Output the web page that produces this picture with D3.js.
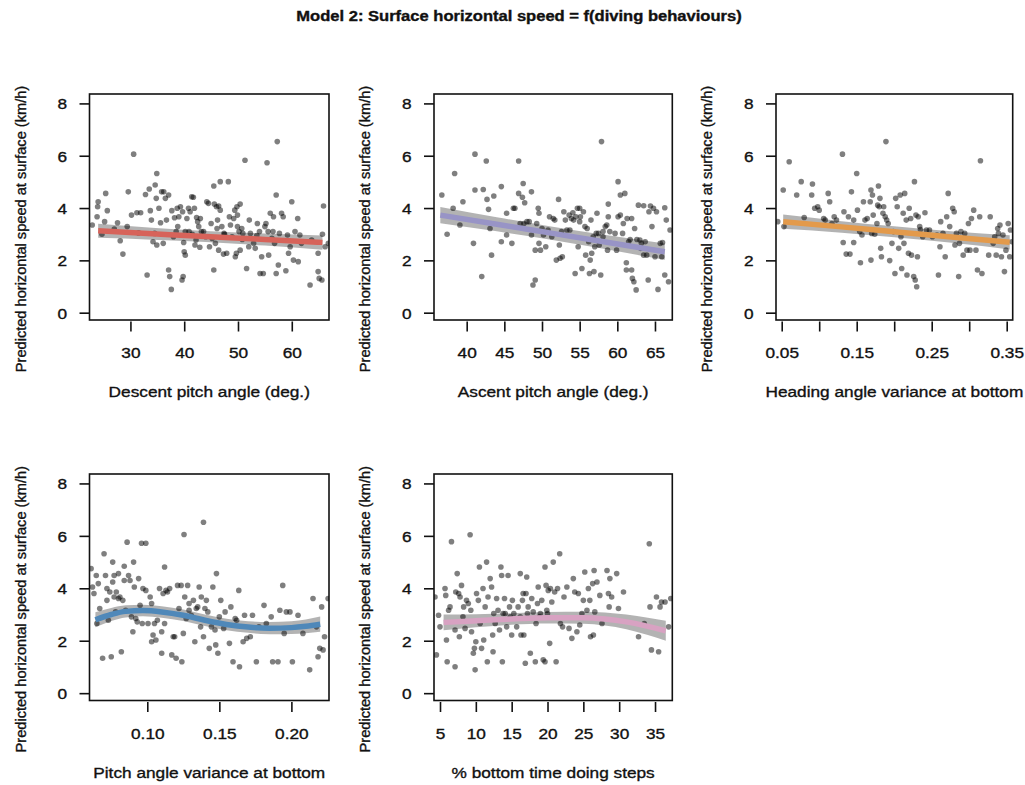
<!DOCTYPE html>
<html>
<head>
<meta charset="utf-8">
<script src="https://cdn.jsdelivr.net/npm/d3@7"></script>
<style>
  html, body { margin: 0; padding: 0; background: #fff; }
  svg { display: block; }
  text { font-family: "Liberation Sans", Arial, Helvetica, sans-serif; fill: #111; stroke: #111; stroke-width: 0.35px; }
</style>
</head>
<body>
<svg id="chart" width="1025" height="785"></svg>
<script>
// ---------------- DATA ----------------
const title = "Model 2: Surface horizontal speed = f(diving behaviours)";
const yLabel = "Predicted horizontal speed at surface (km/h)";
const xLabels = ["Descent pitch angle (deg.)", "Ascent pitch angle (deg.)", "Heading angle variance at bottom",
                 "Pitch angle variance at bottom", "% bottom time doing steps"];
const yTicks = [0, 2, 4, 6, 8];
const xTicks1 = [30, 40, 50, 60];
const xTicks2 = [40, 45, 50, 55, 60, 65];
const xTicks3 = [0.05, 0.10, 0.15, 0.20, 0.25, 0.30, 0.35];
const xTickLabels3 = ["0.05", "", "0.15", "", "0.25", "", "0.35"];
const xTicks4 = [0.10, 0.15, 0.20];
const xTicks5 = [5, 10, 15, 20, 25, 30, 35];
const lineColors = ["#d7645a", "#9894c6", "#e39a4c", "#4f88b9", "#d8a2c2"];

// fitted smooth: x, fit, half-width of confidence band
const fit1X = [24, 34, 44, 55, 65.7];
const fit1Y = [3.13, 3.02, 2.91, 2.80, 2.68];
const fit1S = [0.27, 0.23, 0.21, 0.23, 0.27];
const fit2X = [36.5, 44, 51, 58, 66.3];
const fit2Y = [3.73, 3.38, 3.05, 2.72, 2.33];
const fit2S = [0.31, 0.27, 0.25, 0.27, 0.31];
const fit3X = [0.052, 0.13, 0.20, 0.28, 0.354];
const fit3Y = [3.48, 3.28, 3.09, 2.88, 2.69];
const fit3S = [0.27, 0.22, 0.21, 0.22, 0.27];
const fit4X = [0.064, 0.075, 0.085, 0.097, 0.11, 0.125, 0.14, 0.155, 0.17, 0.185, 0.20, 0.21, 0.22];
const fit4Y = [2.80, 3.00, 3.12, 3.15, 3.10, 2.97, 2.78, 2.62, 2.52, 2.48, 2.50, 2.55, 2.63];
const fit4S = [0.29, 0.25, 0.23, 0.22, 0.22, 0.22, 0.22, 0.22, 0.22, 0.23, 0.24, 0.26, 0.29];
const fit5X = [5.5, 10, 15, 20, 25, 28, 31, 34, 36.5];
const fit5Y = [2.70, 2.76, 2.83, 2.88, 2.88, 2.83, 2.72, 2.55, 2.38];
const fit5S = [0.30, 0.25, 0.22, 0.22, 0.23, 0.25, 0.28, 0.33, 0.38];

// observations [x, y]
const pts1 = [[22.9,3.35],[23.8,3.67],[23.9,4.05],[24.0,4.24],[24.7,3.0],[25.4,4.56],[25.7,3.9],[25.2,3.48],[27.6,3.44],[28.1,2.75],[28.6,2.24],[29.6,4.62],[29.4,3.29],[30.6,6.06],[30.2,3.73],[31.2,3.82],[31.9,3.82],[32.8,4.52],[33.1,1.44],[33.5,4.73],[33.7,3.9],[33.9,3.54],[34.2,2.71],[34.5,3.03],[34.6,4.88],[34.9,5.32],[34.8,4.37],[34.9,2.59],[35.3,3.99],[35.6,3.44],[35.8,4.62],[36.2,4.62],[36.5,4.37],[36.1,2.65],[36.7,3.54],[37.1,4.5],[37.1,1.63],[37.3,1.38],[37.6,0.89],[37.7,3.9],[38.0,2.9],[38.2,3.63],[38.7,3.99],[38.8,3.29],[39.0,3.67],[39.3,4.05],[39.6,1.25],[39.8,1.38],[39.9,2.68],[40.0,2.33],[40.2,2.2],[40.2,3.1],[39.7,3.86],[40.5,3.6],[40.8,3.99],[40.9,3.1],[41.1,3.86],[41.4,4.43],[41.7,4.41],[42.0,2.59],[42.2,2.78],[41.9,3.99],[42.3,3.64],[42.5,3.48],[42.7,3.29],[43.0,3.6],[42.9,2.5],[43.2,3.1],[43.6,3.1],[44.2,4.24],[44.5,4.18],[44.7,2.52],[45.0,3.41],[45.2,2.84],[45.5,1.63],[45.5,4.84],[45.6,4.15],[45.8,2.65],[46.0,4.05],[46.2,3.54],[46.4,4.08],[46.1,3.22],[46.7,5.01],[46.7,3.92],[47.0,3.29],[46.4,2.39],[47.3,2.24],[47.4,3.03],[48.2,5.01],[47.9,2.27],[48.4,3.67],[48.6,3.35],[48.9,2.9],[49.2,3.6],[49.4,3.92],[49.5,2.14],[49.7,2.27],[49.8,4.05],[49.9,3.73],[49.9,3.29],[50.2,3.1],[50.4,4.15],[50.4,2.39],[50.7,3.22],[50.9,3.03],[51.3,5.83],[51.6,1.69],[52.0,2.52],[52.1,3.54],[52.3,3.03],[52.9,2.65],[53.2,2.46],[53.6,3.41],[54.0,3.1],[54.1,1.5],[54.4,2.14],[54.7,1.5],[55.0,3.29],[55.2,3.41],[55.4,5.73],[55.6,3.1],[55.7,2.2],[56.0,3.8],[56.3,2.84],[56.6,3.67],[56.5,3.1],[56.8,2.65],[57.1,4.5],[57.1,1.5],[57.3,6.54],[57.5,1.82],[57.7,3.03],[58.1,3.8],[58.4,3.67],[58.9,1.6],[59.2,2.97],[59.4,2.27],[59.7,2.52],[60.0,4.24],[60.3,2.01],[60.6,3.1],[61.1,3.6],[61.2,1.95],[61.5,2.97],[61.8,2.65],[63.4,1.06],[63.7,2.78],[64.9,2.27],[64.9,1.57],[65.1,1.31],[65.6,1.25],[65.7,3.0],[65.9,4.08],[66.2,2.52],[66.8,2.65],[44.0,2.9],[47.5,3.0],[50.8,2.8],[53.5,2.95],[41.5,3.0],[38.5,3.1],[31.5,3.05],[27.0,3.2]];

const pts2 = [[36.7,4.5],[37.4,3.0],[38.2,3.99],[38.4,5.32],[39.1,3.35],[39.5,4.24],[40.9,2.65],[41.1,6.06],[41.1,4.69],[42.0,1.38],[42.2,4.71],[42.6,5.8],[42.7,4.33],[42.9,3.95],[43.1,3.22],[43.3,2.2],[43.6,4.46],[44.6,4.82],[44.6,2.71],[45.3,3.8],[45.3,2.97],[46.0,2.65],[46.2,3.99],[46.4,3.99],[46.9,5.8],[46.9,4.56],[47.1,3.41],[47.4,4.41],[47.5,4.94],[47.6,3.41],[47.7,4.2],[48.0,3.48],[48.3,3.48],[48.6,4.62],[48.6,2.97],[48.8,1.06],[49.1,1.25],[49.1,2.39],[49.3,3.41],[49.5,3.99],[49.6,3.8],[49.6,2.65],[49.8,2.39],[50.0,3.22],[50.2,2.97],[50.5,2.52],[50.8,3.16],[51.0,3.67],[51.3,2.9],[51.5,3.6],[51.7,3.54],[51.9,2.01],[52.2,4.33],[52.3,2.59],[52.4,2.08],[52.6,3.1],[52.7,2.14],[52.9,3.86],[53.1,3.54],[53.3,3.16],[53.6,3.73],[53.7,3.16],[53.9,3.6],[54.1,3.82],[54.2,3.54],[54.4,1.5],[54.5,3.67],[54.7,3.99],[54.8,2.52],[55.0,3.48],[55.0,3.99],[55.1,3.67],[55.3,1.69],[55.5,3.86],[55.7,3.29],[55.8,2.2],[56.0,3.22],[56.2,2.71],[56.3,1.5],[56.4,2.01],[56.5,3.54],[56.6,2.27],[56.8,2.9],[56.9,1.57],[57.0,2.52],[57.2,3.03],[57.3,3.8],[57.5,3.03],[57.6,2.59],[57.8,1.44],[57.9,6.54],[58.1,3.1],[58.1,2.9],[58.4,3.29],[58.6,3.35],[58.7,2.39],[58.8,3.67],[58.8,4.15],[59.0,3.1],[59.7,3.03],[59.9,2.39],[60.1,5.01],[60.1,3.67],[60.4,4.5],[60.4,3.73],[60.7,3.03],[60.8,3.41],[61.0,4.56],[61.2,1.91],[61.2,1.63],[61.3,3.6],[61.5,2.71],[61.7,2.8],[61.9,1.63],[61.9,3.6],[62.0,1.31],[62.2,1.18],[62.3,3.22],[62.5,0.87],[62.6,2.8],[62.8,4.11],[63.0,2.78],[63.1,2.46],[63.2,2.65],[63.5,2.2],[63.5,4.09],[63.7,2.71],[63.9,2.2],[64.1,1.25],[64.2,3.86],[64.4,4.08],[64.6,3.29],[64.8,3.99],[65.0,2.14],[65.2,3.86],[65.4,0.89],[65.7,2.65],[65.9,2.14],[66.0,2.68],[66.3,1.44],[66.3,4.01],[66.5,3.54],[66.8,1.18],[67.0,3.16]];

const pts3 = [[0.0447,3.48],[0.052,4.69],[0.053,3.29],[0.060,5.77],[0.070,4.5],[0.076,5.01],[0.080,3.64],[0.090,4.5],[0.091,4.92],[0.094,3.99],[0.098,4.05],[0.100,3.92],[0.106,3.6],[0.108,3.54],[0.112,4.56],[0.114,4.24],[0.117,3.41],[0.120,3.67],[0.123,3.54],[0.131,6.06],[0.132,2.68],[0.133,3.86],[0.136,2.24],[0.139,3.67],[0.141,2.24],[0.143,4.62],[0.146,2.68],[0.146,3.54],[0.150,5.32],[0.151,3.92],[0.154,3.1],[0.155,1.91],[0.157,2.97],[0.159,4.24],[0.161,3.54],[0.164,3.6],[0.168,4.24],[0.169,2.01],[0.169,4.69],[0.170,3.03],[0.171,4.5],[0.172,3.73],[0.174,3.0],[0.177,3.41],[0.178,4.11],[0.179,4.84],[0.180,4.05],[0.181,4.37],[0.182,2.46],[0.183,2.14],[0.185,3.8],[0.186,4.05],[0.188,3.67],[0.189,6.54],[0.190,3.54],[0.192,3.41],[0.194,1.99],[0.197,2.65],[0.199,3.1],[0.201,1.5],[0.202,4.37],[0.204,4.05],[0.206,2.46],[0.208,4.5],[0.209,2.9],[0.210,1.69],[0.212,3.8],[0.213,2.65],[0.214,4.56],[0.216,3.54],[0.217,1.44],[0.219,2.27],[0.220,3.99],[0.222,3.6],[0.223,2.2],[0.226,1.38],[0.227,5.01],[0.228,1.25],[0.229,3.73],[0.230,0.99],[0.231,2.14],[0.232,3.67],[0.234,3.29],[0.235,3.18],[0.238,2.9],[0.241,3.82],[0.243,3.16],[0.247,3.16],[0.251,2.9],[0.257,2.97],[0.259,1.44],[0.261,2.52],[0.262,3.48],[0.265,3.03],[0.268,2.14],[0.270,3.67],[0.272,4.56],[0.274,3.29],[0.278,3.99],[0.280,3.86],[0.281,2.59],[0.283,3.03],[0.286,1.38],[0.287,2.65],[0.289,3.1],[0.292,2.2],[0.294,3.03],[0.297,2.39],[0.299,3.41],[0.301,2.39],[0.303,3.6],[0.306,3.92],[0.309,2.39],[0.311,1.63],[0.314,3.67],[0.315,5.81],[0.317,1.5],[0.326,2.2],[0.328,3.67],[0.332,2.65],[0.334,2.9],[0.336,2.2],[0.338,3.22],[0.339,3.03],[0.341,3.35],[0.343,2.14],[0.345,2.97],[0.347,1.57],[0.349,2.39],[0.352,3.41],[0.354,2.14],[0.355,3.16],[0.357,2.71]];

const pts4 = [[0.061,4.75],[0.062,4.05],[0.063,3.8],[0.0646,4.49],[0.065,2.66],[0.066,4.18],[0.067,3.23],[0.069,1.33],[0.070,5.32],[0.071,4.49],[0.072,3.99],[0.072,3.54],[0.073,2.78],[0.074,3.86],[0.075,1.39],[0.076,4.24],[0.076,5.0],[0.077,3.67],[0.077,4.49],[0.078,3.1],[0.0785,3.86],[0.080,3.61],[0.080,4.56],[0.081,3.67],[0.082,1.58],[0.083,3.54],[0.084,4.3],[0.084,4.84],[0.085,3.16],[0.086,5.76],[0.087,4.49],[0.088,4.3],[0.089,2.91],[0.090,2.34],[0.0905,5.0],[0.091,4.05],[0.092,2.85],[0.093,2.72],[0.094,4.37],[0.095,3.35],[0.096,5.72],[0.0965,2.66],[0.097,3.99],[0.099,5.72],[0.099,3.92],[0.1005,2.66],[0.102,3.67],[0.103,1.96],[0.103,3.42],[0.104,2.22],[0.105,2.66],[0.106,2.03],[0.107,2.78],[0.1085,3.99],[0.110,1.52],[0.110,2.34],[0.111,3.8],[0.112,2.66],[0.112,4.81],[0.113,3.92],[0.114,3.86],[0.1155,3.99],[0.117,1.46],[0.118,2.15],[0.119,2.15],[0.120,1.33],[0.121,4.11],[0.122,3.23],[0.1235,4.11],[0.124,1.2],[0.125,2.28],[0.1255,6.05],[0.126,3.67],[0.127,2.85],[0.128,4.11],[0.129,3.42],[0.129,3.16],[0.1305,2.97],[0.132,3.54],[0.133,1.96],[0.134,3.23],[0.135,3.29],[0.136,4.05],[0.137,2.53],[0.1375,3.67],[0.139,2.15],[0.139,6.52],[0.140,3.23],[0.141,3.54],[0.142,3.1],[0.143,1.71],[0.1445,2.53],[0.1455,4.05],[0.147,2.41],[0.1475,1.84],[0.148,4.56],[0.149,1.52],[0.150,2.91],[0.151,3.54],[0.153,2.47],[0.154,3.1],[0.157,1.9],[0.158,3.29],[0.1595,1.2],[0.161,2.85],[0.162,2.78],[0.1635,3.92],[0.164,1.01],[0.1665,1.96],[0.1675,2.97],[0.169,2.09],[0.1715,2.15],[0.173,2.97],[0.1757,1.2],[0.1775,2.53],[0.181,3.35],[0.1826,2.66],[0.186,2.91],[0.187,1.2],[0.1907,1.2],[0.192,3.16],[0.194,4.11],[0.195,2.28],[0.1965,3.1],[0.199,3.1],[0.2007,1.2],[0.2046,2.97],[0.208,2.28],[0.2127,0.89],[0.215,3.61],[0.2174,2.53],[0.2185,1.39],[0.2197,1.71],[0.221,3.29],[0.222,1.65],[0.223,2.15],[0.2255,3.61]];

const pts5 = [[4.3,3.67],[4.5,1.46],[4.8,2.97],[5.0,2.53],[5.7,3.99],[5.8,3.73],[5.9,2.03],[6.0,1.2],[6.2,3.16],[6.4,3.29],[6.6,5.78],[7.1,1.01],[7.1,2.41],[7.2,3.86],[7.4,4.56],[7.6,3.8],[7.7,2.15],[7.8,3.67],[8.0,4.11],[8.2,2.91],[8.3,3.29],[8.5,2.47],[8.7,3.54],[8.95,3.42],[9.2,6.04],[9.3,3.16],[9.4,2.34],[9.65,1.52],[9.8,1.71],[9.9,0.89],[10.0,1.96],[10.1,3.8],[10.35,3.54],[10.5,4.81],[10.6,2.66],[10.8,1.71],[11.0,3.99],[11.1,2.03],[11.3,3.29],[11.5,5.0],[11.6,1.2],[11.7,3.67],[12.0,4.37],[12.2,4.05],[12.35,2.22],[12.4,1.58],[12.5,3.04],[12.7,2.66],[12.9,3.61],[13.1,3.16],[13.3,2.41],[13.5,4.81],[13.6,4.49],[13.7,1.2],[13.8,3.04],[14.0,3.61],[14.1,3.04],[14.3,2.53],[14.5,4.49],[14.7,3.29],[14.8,2.91],[15.0,2.22],[15.1,3.54],[15.3,3.04],[15.7,2.53],[15.9,3.29],[16.2,4.56],[16.2,2.91],[16.3,2.22],[16.5,3.54],[16.6,3.8],[16.7,2.22],[16.9,1.14],[17.0,3.8],[17.1,4.43],[17.2,3.04],[17.3,3.29],[17.6,1.52],[17.8,3.61],[18.0,3.1],[18.3,1.2],[18.4,2.66],[18.6,3.42],[18.7,4.05],[18.9,2.91],[19.0,3.04],[19.2,3.54],[19.4,1.27],[19.65,4.81],[19.65,1.2],[19.8,4.11],[19.9,3.16],[20.0,3.04],[20.1,3.92],[20.3,1.9],[20.4,3.99],[20.6,3.48],[20.8,5.0],[21.0,3.86],[21.2,1.2],[21.4,3.99],[21.7,5.32],[21.8,2.66],[22.1,2.53],[22.3,3.67],[22.7,4.05],[23.0,2.47],[23.4,2.09],[23.6,4.37],[23.8,3.86],[24.1,2.34],[24.3,3.8],[24.5,2.6],[24.8,3.04],[25.0,3.54],[25.2,4.62],[25.5,3.16],[25.7,3.99],[25.9,3.54],[26.0,2.15],[26.3,4.18],[26.4,2.22],[26.5,4.68],[26.6,3.1],[26.9,4.24],[27.3,3.73],[27.6,2.66],[28.3,4.68],[28.5,3.8],[28.6,3.29],[28.7,4.37],[28.95,3.67],[29.65,4.56],[29.9,3.23],[30.6,3.86],[32.7,2.15],[33.5,2.66],[34.2,5.7],[34.3,3.29],[34.5,1.65],[35.2,3.67],[35.5,1.58],[35.7,3.29],[35.9,3.48],[36.4,3.48],[36.9,2.53],[37.2,3.61]];

// ---------------- LAYOUT ----------------
const SX = 1.15; // horizontal stretch of glyphs seen in the reference
const panels = [
  { pts: pts1, fx: fit1X, fy: fit1Y, fs: fit1S, xd: [22.39, 66.92], ticks: xTicks1, tickLab: null, box: [89.5, 94, 329, 320] },
  { pts: pts2, fx: fit2X, fy: fit2Y, fs: fit2S, xd: [35.66, 67.30], ticks: xTicks2, tickLab: null, box: [434, 94, 672.3, 320] },
  { pts: pts3, fx: fit3X, fy: fit3Y, fs: fit3S, xd: [0.0424, 0.358], ticks: xTicks3, tickLab: xTickLabels3, box: [776, 94, 1012.7, 320] },
  { pts: pts4, fx: fit4X, fy: fit4Y, fs: fit4S, xd: [0.0599, 0.2261], ticks: xTicks4, tickLab: null, box: [89.5, 474, 329, 700.5] },
  { pts: pts5, fx: fit5X, fy: fit5Y, fs: fit5S, xd: [4.163, 37.41], ticks: xTicks5, tickLab: null, box: [434, 474, 672.3, 700.5] }
];
const yDomain = [-0.28, 8.36];

const svg = d3.select("#chart");
const defs = svg.append("defs");
defs.append("filter").attr("id", "soft").attr("x", "-20%").attr("y", "-20%").attr("width", "140%").attr("height", "140%")
  .append("feGaussianBlur").attr("stdDeviation", 0.6);

function hText(parent, x, y, str, size, anchor, weight) {
  return parent.append("text")
    .attr("transform", `translate(${x},${y}) scale(${SX},1)`)
    .attr("text-anchor", anchor || "middle")
    .attr("font-size", size)
    .attr("font-weight", weight || "normal")
    .text(str);
}

// title
hText(svg, 519, 21, title, 14.4, "middle", "bold");

panels.forEach((p, i) => {
  const [x0, y0, x1, y1] = p.box;
  const x = d3.scaleLinear().domain(p.xd).range([x0, x1]);
  const y = d3.scaleLinear().domain(yDomain).range([y1, y0]);
  const g = svg.append("g");

  const clipId = "clip" + i;
  defs.append("clipPath").attr("id", clipId).append("rect")
    .attr("x", x0).attr("y", y0).attr("width", x1 - x0).attr("height", y1 - y0);

  const plot = g.append("g").attr("clip-path", `url(#${clipId})`);

  // confidence band
  const fitData = p.fx.map((v, k) => ({ x: v, y: p.fy[k], s: p.fs[k] }));
  const area = d3.area().curve(d3.curveMonotoneX)
    .x(d => x(d.x)).y0(d => y(d.y - d.s)).y1(d => y(d.y + d.s));
  plot.append("path").datum(fitData).attr("d", area)
    .attr("fill", "#a6a6a6").attr("fill-opacity", 0.85).attr("filter", "url(#soft)");

  // points
  plot.append("g").attr("filter", "url(#soft)")
    .selectAll("circle").data(p.pts).join("circle")
    .attr("cx", d => x(d[0])).attr("cy", d => y(d[1])).attr("r", 2.8)
    .attr("fill", "#000").attr("fill-opacity", 0.5);

  // fitted line
  const line = d3.line().curve(d3.curveMonotoneX).x(d => x(d.x)).y(d => y(d.y));
  plot.append("path").datum(fitData).attr("d", line)
    .attr("fill", "none").attr("stroke", lineColors[i]).attr("stroke-width", 5.5)
    .attr("stroke-linecap", "butt").attr("filter", "url(#soft)");

  // box
  g.append("rect").attr("x", x0).attr("y", y0).attr("width", x1 - x0).attr("height", y1 - y0)
    .attr("fill", "none").attr("stroke", "#111").attr("stroke-width", 1.6);

  // x axis
  const xa = d3.axisBottom(x).tickValues(p.ticks).tickSize(10).tickSizeOuter(0)
    .tickFormat((d, k) => p.tickLab ? p.tickLab[k] : (Number.isInteger(d) ? String(d) : d3.format(".2f")(d)));
  const gx = g.append("g").attr("transform", `translate(0,${y1 + 1.5})`).call(xa);
  gx.select(".domain").remove();
  gx.selectAll(".tick line").attr("stroke", "#111").attr("stroke-width", 1.6);
  gx.selectAll(".tick text").attr("y", 0).attr("dy", 0)
    .attr("transform", `translate(0,36.5) scale(${SX},1)`)
    .attr("font-size", 15).attr("fill", "#111")
    .attr("font-family", '"Liberation Sans", Arial, sans-serif');

  // y axis
  const ya = d3.axisLeft(y).tickValues(yTicks).tickSize(10).tickSizeOuter(0).tickFormat(d3.format("d"));
  const gy = g.append("g").attr("transform", `translate(${x0},0)`).call(ya);
  gy.select(".domain").remove();
  gy.selectAll(".tick line").attr("stroke", "#111").attr("stroke-width", 1.6);
  gy.selectAll(".tick text").attr("x", 0).attr("dy", "0.36em")
    .attr("transform", `translate(-22.5,0) scale(${SX},1)`)
    .attr("font-size", 15).attr("fill", "#111")
    .attr("font-family", '"Liberation Sans", Arial, sans-serif');

  // axis labels
  hText(g, (x0 + x1) / 2, y1 + 77, xLabels[i], 15, "middle");
  const cy = (y0 + y1) / 2 + 22;
  g.append("text")
    .attr("transform", `translate(${x0 - 64},${cy}) rotate(-90)`)
    .attr("text-anchor", "middle").attr("font-size", 14.6)
    .text(yLabel);
});
</script>
</body>
</html>
